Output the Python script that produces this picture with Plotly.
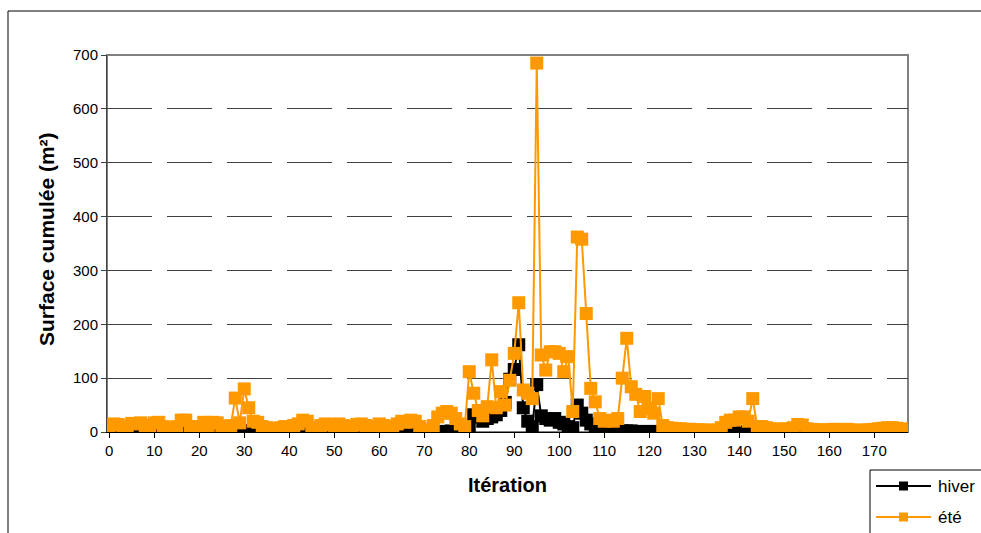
import plotly.graph_objects as go

iterations = list(range(178))

ete = [3, 15, 14, 8, 10, 16, 15, 17, 12, 8,
       17, 18, 10, 5, 8, 10, 22, 22, 10, 8,
       10, 18, 12, 18, 17, 10, 8, 12, 63, 17,
       80, 45, 20, 18, 10, 8, 5, 6, 8, 10,
       5, 12, 15, 22, 20, 8, 6, 12, 15, 14,
       8, 15, 12, 10, 8, 14, 15, 12, 8, 10,
       15, 12, 8, 10, 15, 20, 18, 22, 20, 10,
       3, 5, 12, 28, 35, 38, 35, 25, 15, 10,
       112, 72, 40, 30, 47, 134, 45, 75, 50, 96,
       146, 240, 78, 72, 62, 685, 143, 115, 149, 149,
       146, 112, 140, 38, 362, 358, 220, 81, 56, 25,
       20, 22, 20, 25, 100, 174, 84, 70, 38, 66,
       44, 35, 62, 12, 8, 7, 6, 6, 5, 5,
       4, 4, 4, 3, 3, 4, 8, 18, 22, 22,
       28, 28, 20, 62, 10, 10, 8, 6, 5, 5,
       6, 5, 8, 14, 13, 6, 5, 4, 4, 4,
       4, 5, 4, 4, 5, 4, 3, 3, 4, 4,
       5, 6, 7, 8, 8, 7, 6, 3]

hiver = [1, 2, 2, 1, 2, 2, 1, 2, 2, 1,
         2, 2, 1, 1, 2, 2, 2, 1, 1, 2,
         2, 1, 2, 2, 1, 1, 2, 2, 3, 2,
         2, 2, 2, 1, 1, 1, 1, 1, 1, 2,
         1, 1, 2, 2, 1, 1, 1, 2, 2, 1,
         1, 2, 2, 1, 1, 2, 2, 1, 1, 1,
         2, 2, 1, 1, 2, 2, 2, 2, 1, 1,
         1, 1, 1, 1, 1, 1, 2, 2, 2, 2,
         5, 32, 28, 20, 25, 28, 32, 40, 55, 98,
         116, 162, 45, 20, 10, 88, 30, 25, 22, 25,
         18, 15, 10, 8, 50, 35, 22, 15, 10, 5,
         3, 3, 4, 2, 2, 2, 2, 1, 1, 1,
         1, 1, 1, 1, 1, 1, 1, 1, 1, 1,
         1, 1, 1, 1, 1, 1, 1, 1, 1, 1,
         1, 1, 1, 1, 1, 1, 1, 1, 1, 1,
         1, 1, 1, 1, 1, 1, 1, 1, 1, 1,
         1, 1, 1, 1, 1, 1, 1, 1, 1, 1,
         1, 1, 1, 1, 1, 1, 1, 1]

x_ticks = list(range(0, 171, 10))
y_ticks = list(range(0, 701, 100))

ORANGE = "#FF9900"
FONT = "Liberation Sans, Arial, sans-serif"

W, H = 981, 533
# plot area in pixels
L, R, T, B = 107, 908, 55, 432


def px(xs):
    return (xs - L) / (R - L)


def py(ys):
    return (B - ys) / (B - T)


fig = go.Figure()
fig.add_trace(go.Scatter(
    x=iterations, y=hiver, name="hiver", mode="lines+markers",
    line=dict(color="black", width=2),
    marker=dict(symbol="square", size=13, color="black", line=dict(width=0)),
    showlegend=False))
fig.add_trace(go.Scatter(
    x=iterations, y=ete, name="été", mode="lines+markers",
    line=dict(color=ORANGE, width=2),
    marker=dict(symbol="square", size=13, color=ORANGE, line=dict(width=0)),
    showlegend=False))

shapes = [
    dict(type="rect", xref="paper", yref="paper", x0=px(8), y0=py(11), x1=px(1000), y1=py(560),
         line=dict(color="black", width=1), fillcolor="rgba(0,0,0,0)", layer="below"),
    dict(type="rect", xref="paper", yref="paper", x0=0, y0=0, x1=1, y1=1,
         line=dict(color="#808080", width=2), layer="below"),
    dict(type="rect", xref="paper", yref="paper", x0=px(870), y0=py(470), x1=px(1000), y1=py(560),
         line=dict(color="black", width=1), fillcolor="white", layer="above"),
    dict(type="line", xref="paper", yref="paper", x0=px(876), y0=py(486), x1=px(931), y1=py(486),
         line=dict(color="black", width=2), layer="above"),
    dict(type="rect", xref="paper", yref="paper", x0=px(899), y0=py(481.5), x1=px(908), y1=py(490.5),
         line=dict(color="black", width=0), fillcolor="black", layer="above"),
    dict(type="line", xref="paper", yref="paper", x0=px(876), y0=py(517), x1=px(931), y1=py(517),
         line=dict(color=ORANGE, width=2), layer="above"),
    dict(type="rect", xref="paper", yref="paper", x0=px(899), y0=py(512.5), x1=px(908), y1=py(521.5),
         line=dict(color=ORANGE, width=0), fillcolor=ORANGE, layer="above"),
]

annotations = [
    dict(text="<b>Itération</b>", xref="paper", yref="paper", x=0.5, y=py(485),
         xanchor="center", yanchor="middle", showarrow=False,
         font=dict(family=FONT, size=20, color="black")),
    dict(text="<b>Surface cumulée (m²)</b>", xref="paper", yref="paper", x=px(47), y=py(239),
         xanchor="center", yanchor="middle", showarrow=False, textangle=-90,
         font=dict(family=FONT, size=21, color="black")),
    dict(text="hiver", xref="paper", yref="paper", x=px(936), y=py(486),
         xanchor="left", yanchor="middle", showarrow=False,
         font=dict(family=FONT, size=17, color="black")),
    dict(text="été", xref="paper", yref="paper", x=px(936), y=py(517),
         xanchor="left", yanchor="middle", showarrow=False,
         font=dict(family=FONT, size=17, color="black")),
]

fig.update_layout(
    width=W, height=H,
    margin=dict(l=L, r=W - R, t=T, b=H - B, autoexpand=False),
    paper_bgcolor="white", plot_bgcolor="white",
    font=dict(family=FONT, size=15, color="black"),
    showlegend=False,
    shapes=shapes,
    annotations=annotations,
    xaxis=dict(range=[-0.5, 177.5], tickmode="array", tickvals=x_ticks,
               ticktext=[str(v) for v in x_ticks],
               showgrid=False, zeroline=False,
               showline=True, linecolor="black", linewidth=1,
               ticks="outside", ticklen=5, tickcolor="black",
               tickfont=dict(family=FONT, size=15, color="black")),
    yaxis=dict(range=[0, 700], tickmode="array", tickvals=y_ticks,
               ticktext=[str(v) for v in y_ticks],
               showgrid=True, gridcolor="#404040", gridwidth=1, griddash="45px,15px",
               zeroline=False,
               showline=True, linecolor="#404040", linewidth=1,
               ticks="outside", ticklen=5, tickcolor="#404040",
               tickfont=dict(family=FONT, size=15, color="black")),
)

fig.write_html(
    "out.html",
    config={"displayModeBar": False},
    post_script="document.body.style.margin='0';document.body.style.overflow='hidden';",
)
